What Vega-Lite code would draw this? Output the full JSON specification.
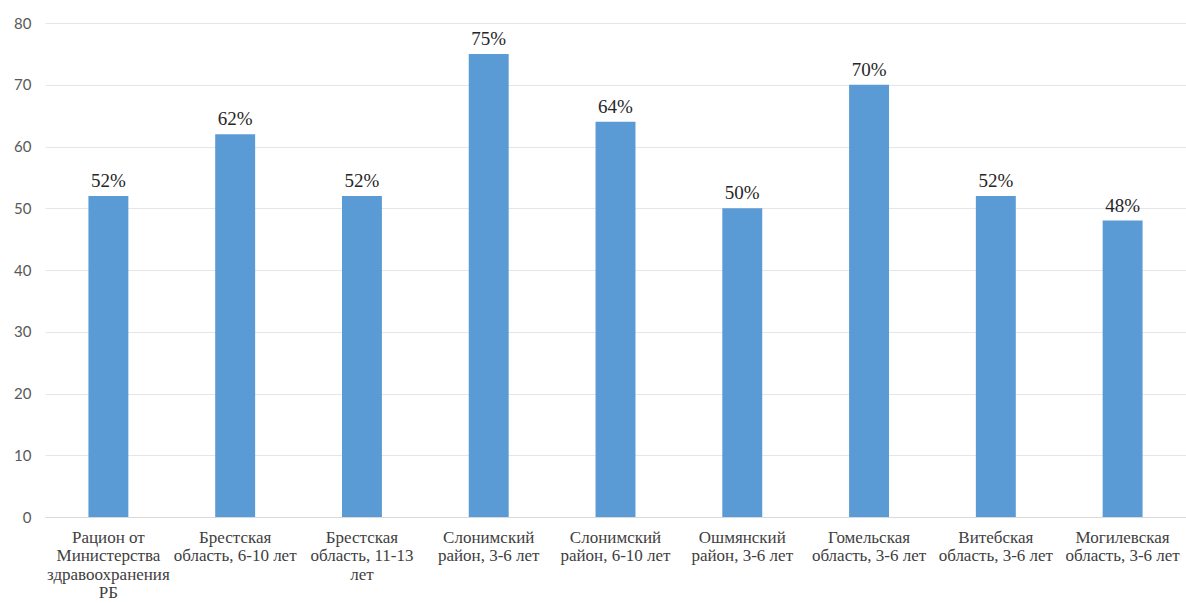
{
  "$schema": "https://vega.github.io/schema/vega-lite/v6.json",
  "autosize": "none",
  "width": 1141,
  "height": 494,
  "padding": {"left": 45, "top": 23, "right": 0, "bottom": 86},
  "background": "white",
  "config": {"view": {"stroke": null}},
  "data": {"values": [
    {"cat": "Рацион от\nМинистерства\nздравоохранения\nРБ", "value": 52, "lbl": "52%"},
    {"cat": "Брестская\nобласть, 6-10 лет", "value": 62, "lbl": "62%"},
    {"cat": "Брестская\nобласть, 11-13\nлет", "value": 52, "lbl": "52%"},
    {"cat": "Слонимский\nрайон, 3-6 лет", "value": 75, "lbl": "75%"},
    {"cat": "Слонимский\nрайон, 6-10 лет", "value": 64, "lbl": "64%"},
    {"cat": "Ошмянский\nрайон, 3-6 лет", "value": 50, "lbl": "50%"},
    {"cat": "Гомельская\nобласть, 3-6 лет", "value": 70, "lbl": "70%"},
    {"cat": "Витебская\nобласть, 3-6 лет", "value": 52, "lbl": "52%"},
    {"cat": "Могилевская\nобласть, 3-6 лет", "value": 48, "lbl": "48%"}
  ]},
  "encoding": {
    "x": {
      "field": "cat", "type": "nominal", "sort": null,
      "scale": {"paddingInner": 0.685, "paddingOuter": 0.3425},
      "axis": {
        "title": null, "labelAngle": 0, "ticks": false,
        "domainColor": "#d9d9d9", "domainWidth": 1,
        "labelFont": "Liberation Serif", "labelFontSize": 17, "labelColor": "#404040",
        "labelPadding": 12, "labelLineHeight": 18.5, "labelBaseline": "top",
        "labelExpr": "split(datum.label, '\\n')", "labelLimit": 200, "labelOverlap": false
      }
    },
    "y": {
      "field": "value", "type": "quantitative",
      "scale": {"domain": [0, 80], "nice": false},
      "axis": {
        "title": null, "values": [0,10,20,30,40,50,60,70,80], "labelOverlap": false,
        "domain": false, "ticks": false, "gridColor": "#e6e6e6", "gridWidth": 1,
        "labelFont": "Lato", "labelFontSize": 15, "labelColor": "#595959", "labelPadding": 14
      }
    }
  },
  "layer": [
    {"mark": {"type": "bar", "color": "#5b9bd5"}},
    {"mark": {"type": "text", "baseline": "bottom", "dy": -5, "font": "Liberation Serif", "fontSize": 19, "color": "#262626"},
     "encoding": {"text": {"field": "lbl"}}}
  ]
}
